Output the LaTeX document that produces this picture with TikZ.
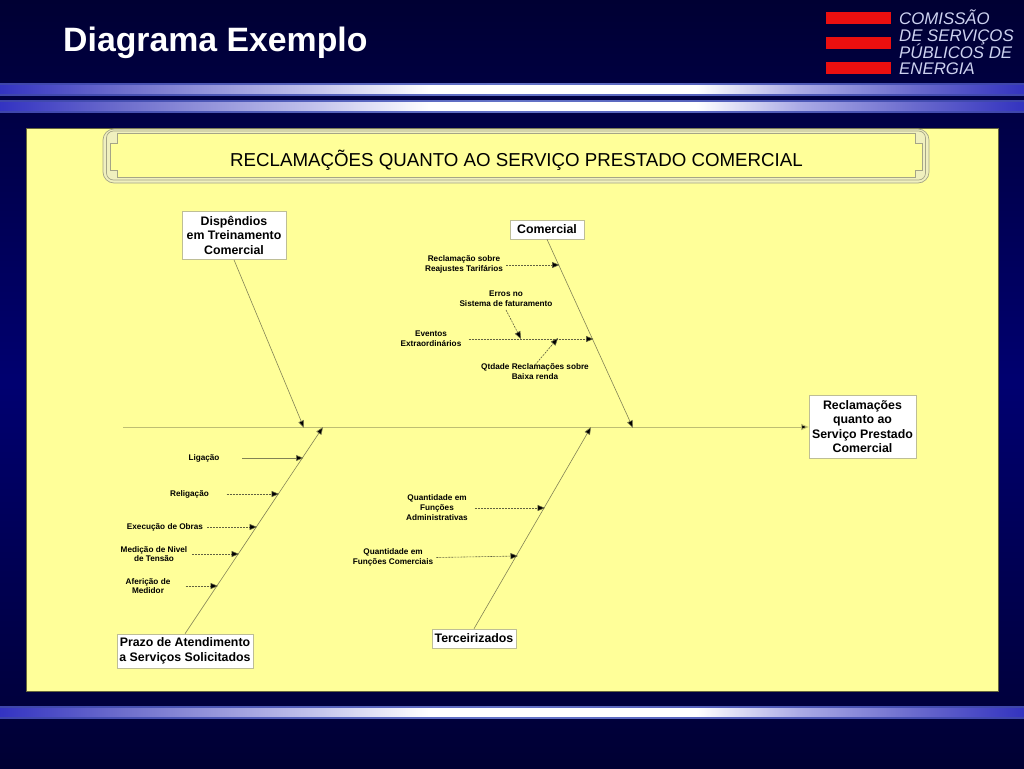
\documentclass[tikz,border=0pt]{standalone}
\usepackage{fontspec}
\setmainfont{Liberation Sans}
\usetikzlibrary{arrows.meta}
\definecolor{panelc}{RGB}{255,255,153}
\definecolor{framec}{RGB}{165,165,135}
\definecolor{framefill}{RGB}{240,240,190}
\definecolor{spinec}{RGB}{190,190,115}
\definecolor{branchc}{RGB}{130,130,85}
\definecolor{boxedge}{RGB}{190,190,150}
\definecolor{logored}{RGB}{235,15,15}
\definecolor{logotext}{RGB}{205,210,240}
\pgfdeclareverticalshading{bgshade}{100bp}{rgb(0bp)=(0,0,.2);rgb(25bp)=(0,0,.2);rgb(50bp)=(0,0,.44);rgb(75bp)=(0,0,.2);rgb(100bp)=(0,0,.2)}
\pgfdeclarehorizontalshading{bandmain}{100bp}{rgb(0bp)=(.2,.2,.76);rgb(25bp)=(.2,.2,.76);rgb(31bp)=(.43,.43,.8);rgb(40bp)=(.75,.75,.92);rgb(46bp)=(1,1,1);rgb(59bp)=(1,1,1);rgb(64bp)=(.67,.67,.9);rgb(70bp)=(.4,.4,.8);rgb(75bp)=(.2,.2,.75);rgb(100bp)=(.2,.2,.75)}
\pgfdeclarehorizontalshading{bandedge}{100bp}{rgb(0bp)=(.24,.27,.67);rgb(25bp)=(.24,.27,.67);rgb(50bp)=(.39,.45,.78);rgb(75bp)=(.24,.27,.67);rgb(100bp)=(.24,.27,.67)}
\tikzset{
  x=1pt,y=-1pt,
  causebox/.style={draw=boxedge,fill=white,line width=.6pt,inner sep=0pt,align=center,font=\fontsize{12.35}{14.6}\selectfont\bfseries,text=black},
  sublabel/.style={inner sep=0pt,align=center,font=\fontsize{8.2}{9.8}\selectfont\bfseries,text=black},
  logoline/.style={anchor=base west,inner sep=0pt,text=logotext,font=\fontsize{16.8}{17}\selectfont\itshape},
  spineline/.style={draw=spinec,line width=1pt,-{Triangle[length=7.5pt,width=6pt,fill=black]}},
  branchline/.style={draw=branchc,line width=.6pt,-{Triangle[length=7.5pt,width=6pt,fill=black]}},
  subarrow/.style={draw=branchc!75!black,line width=.6pt,dash pattern=on 2pt off 1pt,-{Triangle[length=7.5pt,width=6pt,fill=black]}},
  solidarrow/.style={draw=branchc,line width=.6pt,-{Triangle[length=7.5pt,width=6pt,fill=black]}},
  frameline/.style={draw=framec,line width=.7pt},
}
\begin{document}
\begin{tikzpicture}
\useasboundingbox (0,0) rectangle (1024,768);
\shade[shading=bgshade] (0,0) rectangle (1024,768);
% bands
\foreach \yy in {83,100,706}{
  \shade[shading=bandedge] (0,\yy) rectangle (1024,\yy+12);
  \shade[shading=bandmain] (0,\yy+2.6) rectangle (1024,\yy+10);
}
% title and logo
\node[anchor=west,inner sep=0pt,text=white,font=\fontsize{33.8}{36}\selectfont\bfseries] (slidetitle) at (63,43) {Diagrama Exemplo};
\fill[logored] (826,12) rectangle (891,24);
\fill[logored] (826,37) rectangle (891,49);
\fill[logored] (826,62) rectangle (891,74);
\node[logoline] (logoa) at (899,24.7) {COMISSÃO};
\node[logoline] (logob) at (899,41.7) {DE SERVIÇOS};
\node[logoline] (logoc) at (899,58.5) {PÚBLICOS DE};
\node[logoline] (logod) at (899,74.7) {ENERGIA};
% panel
\fill[panelc,draw=black!60!panelc,line width=.5pt] (26,128) rectangle (998,691);
% title frame
\path[fill=framefill,rounded corners=11pt] (103,129) rectangle (929,183);
\fill[panelc] (117,133) -- (915,133) -- (915,143) -- (922,143) -- (922,170) -- (915,170) -- (915,177) -- (117,177) -- (117,170) -- (110,170) -- (110,143) -- (117,143) -- cycle;
\draw[frameline,rounded corners=11pt] (103,129) rectangle (929,183);
\draw[frameline,rounded corners=7pt] (106.5,131) rectangle (925.5,180);
\draw[frameline] (117,133) -- (915,133) -- (915,143) -- (922,143) -- (922,170) -- (915,170) -- (915,177) -- (117,177) -- (117,170) -- (110,170) -- (110,143) -- (117,143) -- cycle;
\node[inner sep=0pt,text=black,font=\fontsize{18.7}{20}\selectfont] (maintitle) at (516.5,160) {RECLAMAÇÕES QUANTO AO SERVIÇO PRESTADO COMERCIAL};
% cause boxes
\node[causebox,minimum width=104pt,minimum height=48.5pt] (dispendios) at (234,235.3) {Dispêndios\\em Treinamento\\Comercial};
\node[causebox,minimum width=74pt,minimum height=19pt] (comercial) at (547,229.5) {Comercial};
\node[causebox,minimum width=107pt,minimum height=63pt] (effect) at (862.5,426.5) {Reclamações\\quanto ao\\Serviço Prestado\\Comercial};
\node[causebox,minimum width=136pt,minimum height=34pt] (prazo) at (185,651) {Prazo de Atendimento\\a Serviços Solicitados};
\node[causebox,minimum width=84pt,minimum height=19pt] (terceirizados) at (474,638.5) {Terceirizados};
% free ends on the spine
\coordinate (tail) at (123,427);
\coordinate (jdisp) at (304,428);
\coordinate (jprazo) at (323,427);
\coordinate (jterc) at (591,427);
\coordinate (jcom) at (633,428);
% spine and branches
\draw[spineline] (tail) -- (effect.west |- tail);
\draw[branchline] (dispendios.south) -- (jdisp);
\draw[branchline] (comercial.south) -- (jcom);
\draw[branchline] (prazo.north) -- (jprazo);
\draw[branchline] (terceirizados.north) -- (jterc);
% labels
\node[sublabel] (l1) at (464,264.5) {Reclamação sobre\\Reajustes Tarifários};
\node[sublabel] (l2) at (506,299) {Erros no\\Sistema de faturamento};
\node[sublabel] (l3) at (431,338.5) {Eventos\\Extraordinários};
\node[sublabel] (l4) at (535,371.5) {Qtdade Reclamações sobre\\Baixa renda};
\node[sublabel] (l5) at (204,458) {Ligação};
\node[sublabel] (l6) at (189.5,494) {Religação};
\node[sublabel] (l7) at (165,527.5) {Execução de Obras};
\node[sublabel] (l8) at (154,554) {Medição de Nivel\\de Tensão};
\node[sublabel] (l9) at (148,586) {Aferição de\\Medidor};
\node[sublabel] (l10) at (437,507.5) {Quantidade em\\Funções\\Administrativas};
\node[sublabel] (l11) at (393,557) {Quantidade em\\Funções Comerciais};
% arrow targets
\coordinate (t1) at (559.5,265);
\coordinate (t2) at (521,339);
\coordinate (t3) at (593.5,339);
\coordinate (t4) at (558,338);
\coordinate (t5) at (303.5,458);
\coordinate (t6) at (279,494);
\coordinate (t7) at (257,527);
\coordinate (t8) at (239,554);
\coordinate (t9) at (218,586);
\coordinate (t10) at (545,508);
\coordinate (t11) at (518,556);
% arrows
\draw[subarrow] ([xshift=3pt]l1.east |- t1) -- (t1);
\draw[subarrow] ([yshift=-3pt]l2.south) -- (t2);
\draw[subarrow] ([xshift=7pt]l3.east |- t3) -- (t3);
\draw[subarrow] ([yshift=-1.5pt]l4.north) -- (t4);
\draw[solidarrow] ([xshift=22.5pt]l5.east |- t5) -- (t5);
\draw[subarrow] ([xshift=17.5pt]l6.east |- t6) -- (t6);
\draw[subarrow] ([xshift=4pt]l7.east |- t7) -- (t7);
\draw[subarrow] ([xshift=5pt]l8.east |- t8) -- (t8);
\draw[subarrow] ([xshift=15pt]l9.east |- t9) -- (t9);
\draw[subarrow] ([xshift=7pt]l10.east |- t10) -- (t10);
\draw[subarrow] ([xshift=3pt,yshift=-.5pt]l11.east) -- (t11);
\end{tikzpicture}
\end{document}
